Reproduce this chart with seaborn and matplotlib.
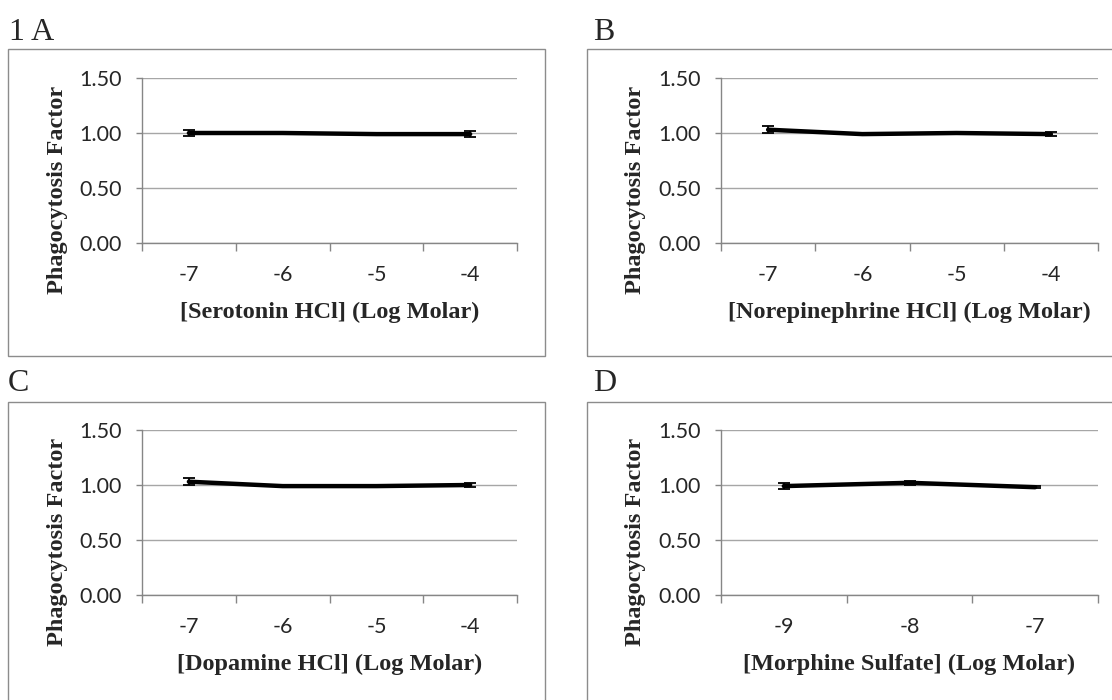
"""Phagocytosis factor vs. drug concentration, four panels (A-D)."""

import matplotlib

matplotlib.use("Agg")
import matplotlib.pyplot as plt
import matplotlib.patches as mpatches
import numpy as np
import pandas as pd
import seaborn as sns

# ---- data -------------------------------------------------------------
serotonin_conc = ["-7", "-6", "-5", "-4"]
serotonin_mean = [1.00, 1.00, 0.99, 0.99]
serotonin_sem = [0.03, 0.00, 0.01, 0.03]

norepi_conc = ["-7", "-6", "-5", "-4"]
norepi_mean = [1.03, 0.99, 1.00, 0.99]
norepi_sem = [0.03, 0.00, 0.00, 0.02]

dopamine_conc = ["-7", "-6", "-5", "-4"]
dopamine_mean = [1.03, 0.99, 0.99, 1.00]
dopamine_sem = [0.03, 0.01, 0.01, 0.02]

morphine_conc = ["-9", "-8", "-7"]
morphine_mean = [0.99, 1.02, 0.98]
morphine_sem = [0.03, 0.02, 0.01]

y_ticks = [0.0, 0.5, 1.0, 1.5]
y_label = "Phagocytosis Factor"

panels = [
    ("1 A", "[Serotonin HCl] (Log Molar)", serotonin_conc, serotonin_mean, serotonin_sem),
    ("B", "[Norepinephrine HCl] (Log Molar)", norepi_conc, norepi_mean, norepi_sem),
    ("C", "[Dopamine HCl] (Log Molar)", dopamine_conc, dopamine_mean, dopamine_sem),
    ("D", "[Morphine Sulfate] (Log Molar)", morphine_conc, morphine_mean, morphine_sem),
]

# ---- layout (pixels) --------------------------------------------------
W, H = 1112, 700
# plot area: left, right, top, bottom
plot_boxes = [(142, 517, 78, 243), (721, 1098, 78, 243),
              (142, 517, 430, 595), (721, 1098, 430, 595)]
# outer chart frame: left, right, top, bottom
frames = [(8, 545, 49, 356), (587, 1116, 49, 356),
          (8, 545, 402, 704), (587, 1116, 402, 704)]
letter_pos = [(9, 40), (593, 40), (8, 391), (593, 391)]

GRID = "#a6a6a6"
AXIS = "#868686"

sns.set_theme(style="white")
plt.rcParams["font.family"] = ["Lato", "DejaVu Sans"]


def px_rect(l, r, t, b):
    return [l / W, 1 - b / H, (r - l) / W, (b - t) / H]


def draw_panel(fig, rect, xlabel, conc, mean, sem):
    ax = fig.add_axes(rect)
    df = pd.DataFrame({"conc": conc, "factor": mean})
    pos = np.arange(len(conc))
    df["pos"] = pos

    ax.errorbar(pos, mean, yerr=sem, fmt="none", ecolor="black",
                elinewidth=1.3, capsize=4.5, capthick=1.3, zorder=3)
    sns.lineplot(data=df, x="pos", y="factor", color="black",
                 linewidth=3.2, ax=ax, zorder=4)

    ax.set_xlim(-0.5, len(conc) - 0.5)
    ax.set_ylim(0, 1.5)
    ax.set_yticks(y_ticks)
    ax.set_yticklabels([f"{v:.2f}" for v in y_ticks])
    ax.set_xticks(pos)
    ax.set_xticklabels(conc)
    ax.set_xticks(np.arange(len(conc) + 1) - 0.5, minor=True)

    ax.grid(axis="y", color=GRID, linewidth=1.0)
    ax.grid(axis="x", visible=False)
    ax.set_axisbelow(True)
    for side in ("top", "right"):
        ax.spines[side].set_visible(False)
    for side in ("left", "bottom"):
        ax.spines[side].set_color(AXIS)
        ax.spines[side].set_linewidth(1.0)

    ax.tick_params(axis="y", which="major", left=True, length=4.5, width=1.0,
                   color=AXIS, pad=10, labelsize=15.5, labelcolor="#262626")
    ax.tick_params(axis="x", which="major", bottom=False, length=0, pad=16,
                   labelsize=15.5, labelcolor="#262626")
    ax.tick_params(axis="x", which="minor", bottom=True, length=6, width=1.0,
                   color=AXIS)

    ax.set_xlabel(xlabel, fontsize=17.5, fontweight="bold",
                  family="Liberation Serif")
    ax.xaxis.set_label_coords(0.5, -0.418)
    ax.xaxis.label.set_va("center")
    ax.set_ylabel(y_label, fontsize=17.5, fontweight="bold",
                  family="Liberation Serif")
    ax.yaxis.set_label_coords(-0.226, 0.32)
    ax.yaxis.label.set_va("center")
    return ax


def main():
    fig = plt.figure(figsize=(W / 100, H / 100), dpi=100)

    for (l, r, t, b) in frames:
        fig.patches.append(mpatches.Rectangle(
            (l / W, 1 - b / H), (r - l) / W, (b - t) / H,
            transform=fig.transFigure, fill=False, edgecolor="#8c8c8c",
            linewidth=1.0))

    for (letter, xlabel, conc, mean, sem), box, (lx, ly) in zip(
            panels, plot_boxes, letter_pos):
        draw_panel(fig, px_rect(*box), xlabel, conc, mean, sem)
        fig.text(lx / W, 1 - ly / H, letter, fontsize=23,
                 family="Liberation Serif", va="baseline", ha="left")

    fig.savefig("out.png", dpi=100)
    plt.close(fig)


if __name__ == "__main__":
    main()
